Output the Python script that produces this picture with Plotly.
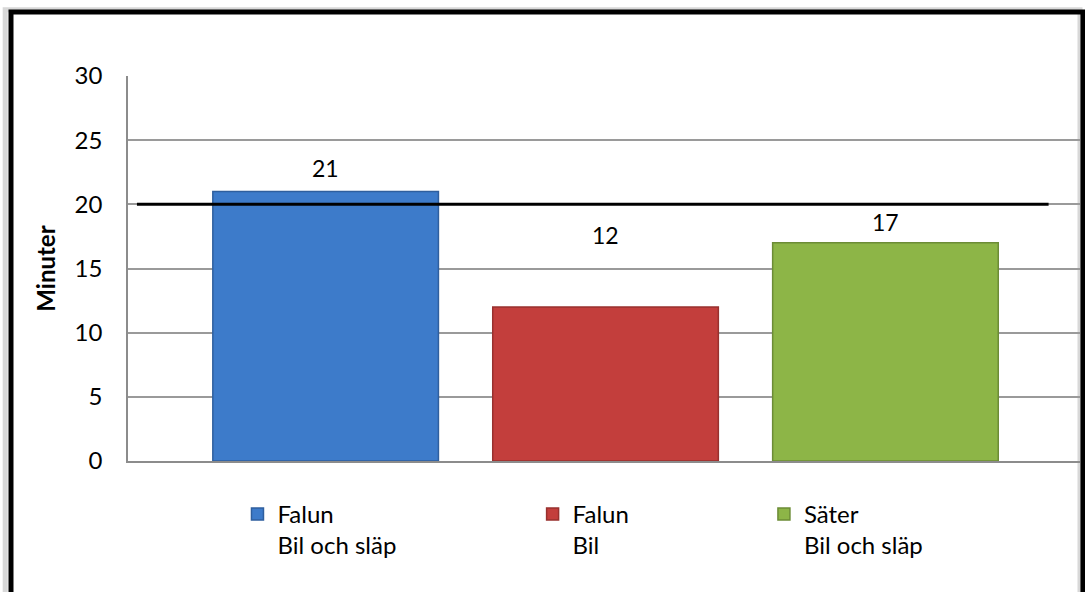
import plotly.graph_objects as go

# Travel time per location and vehicle type (minutes)
orter = ["Falun", "Falun", "Säter"]
fordon = ["Bil och släp", "Bil", "Bil och släp"]
minuter = [21, 12, 17]
mal = 20  # target level drawn as a horizontal line

y_ticks = [0, 5, 10, 15, 20, 25, 30]

farger = ["#3d7bca", "#c33e3c", "#8db547"]
kantfarger = ["#2f5f9e", "#98302e", "#6c8c36"]
etikett_lyft = [24, 72, 21]
legend_x = [0.115, 0.425, 0.668]

FONT = "Lato"

fig = go.Figure()

for i in range(len(minuter)):
    leg = "legend" if i == 0 else f"legend{i + 1}"
    fig.add_trace(go.Bar(
        x=[i], y=[minuter[i]],
        width=0.806,
        name=f"{orter[i]}<br>{fordon[i]}",
        marker=dict(color=farger[i], line=dict(color=kantfarger[i], width=1.5)),
        legend=leg,
        showlegend=True,
    ))
    fig.add_annotation(
        x=i, y=minuter[i], text=str(minuter[i]), showarrow=False,
        yanchor="middle", yshift=etikett_lyft[i],
        font=dict(family=FONT, size=23, color="#000000"),
    )

# Target line at 20 minutes
fig.add_shape(type="line", xref="paper", yref="y",
              x0=0.0094, x1=0.967, y0=mal, y1=mal,
              line=dict(color="#000000", width=3), layer="above")

# Frame shadow and frame around the whole chart
fig.add_shape(type="rect", xref="paper", yref="paper",
              x0=-0.129, x1=1.0, y0=-0.40, y1=1.172,
              line=dict(color="#d8d8d8", width=5), layer="below")
fig.add_shape(type="rect", xref="paper", yref="paper",
              x0=-0.1229, x1=1.0031, y0=-0.40, y1=1.166,
              line=dict(color="#000000", width=5), layer="above")

legend_common = dict(
    orientation="v", xanchor="left", yanchor="top", y=-0.08,
    valign="top", bgcolor="rgba(0,0,0,0)",
    font=dict(family=FONT, size=24, color="#000000"),
)
fig.update_layout(
    legend=dict(x=legend_x[0], **legend_common),
    legend2=dict(x=legend_x[1], **legend_common),
    legend3=dict(x=legend_x[2], **legend_common),
)

fig.update_layout(
    width=1085, height=592,
    margin=dict(l=128, r=5, t=76, b=131),
    paper_bgcolor="#ffffff", plot_bgcolor="#ffffff",
    font=dict(family=FONT, size=24, color="#000000"),
    bargap=0.2,
    xaxis=dict(
        range=[-0.706, 2.695], showticklabels=False, showgrid=False,
        zeroline=False, showline=True, linecolor="#8c8c8c", linewidth=2,
        fixedrange=True,
    ),
    yaxis=dict(
        range=[0, 30], tickvals=y_ticks, showgrid=True,
        gridcolor="#9a9a9a", gridwidth=1.5, zeroline=False,
        showline=True, linecolor="#8c8c8c", linewidth=1.5,
        ticks="", ticklabelstandoff=19,
        tickfont=dict(family=FONT, size=24, color="#000000"),
        title=dict(text="<b>Minuter</b>", standoff=12,
                   font=dict(family=FONT, size=24)),
    ),
)

fig.write_html("out.html")
